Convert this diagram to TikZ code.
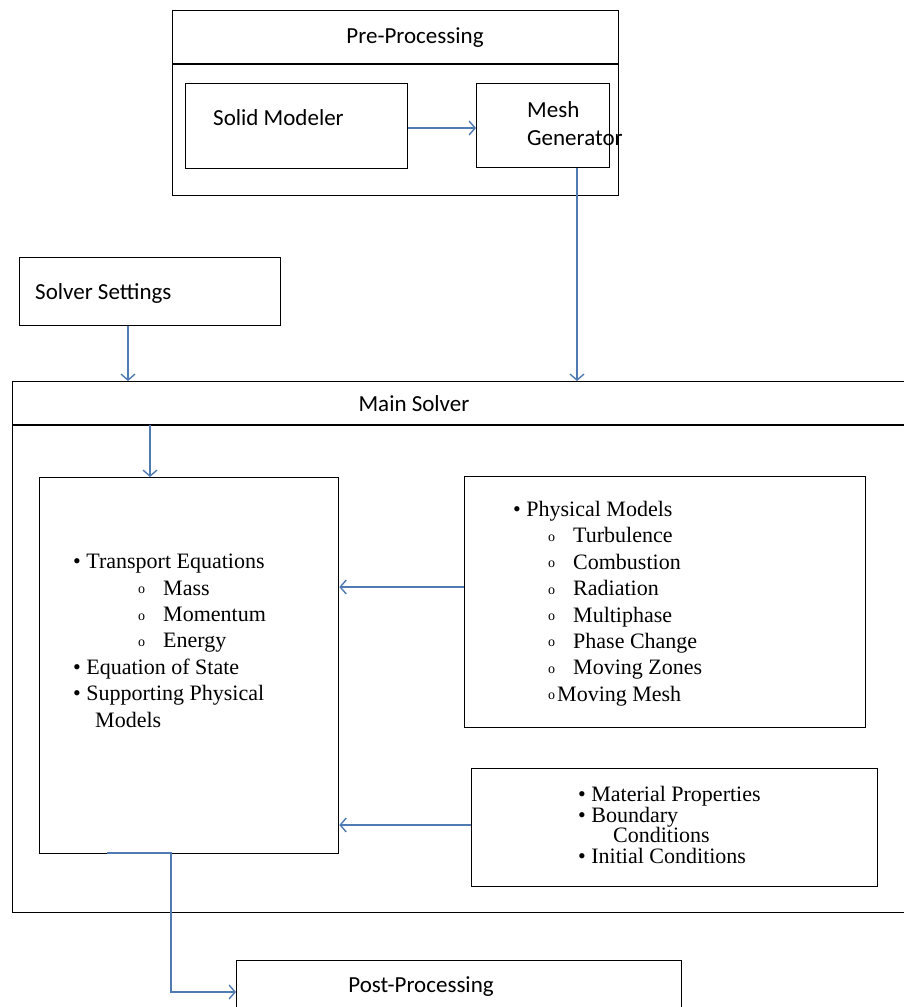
\documentclass[tikz,border=0pt]{standalone}
\usepackage{fontspec}
\setmainfont{Liberation Serif}
\newfontfamily\labelfont{Carlito}
\usetikzlibrary{arrows.meta}
\definecolor{flowblue}{RGB}{79,122,178}
\newcommand\subbullet[1]{\makebox[#1][l]{\raisebox{1.5pt}{\fontsize{14}{14}\selectfont o}}}

\begin{document}
\begin{tikzpicture}[x=1pt,y=-1pt]
\tikzset{box/.style={draw, line width=1.3pt, anchor=north west, inner sep=0pt}}
\tikzset{title/.style={font=\labelfont\fontsize{23}{28}\selectfont, inner sep=0pt}}
\tikzset{list/.style={font=\fontsize{22}{26.4}\selectfont, align=left, anchor=north west, inner sep=0pt}}
\tikzset{flow/.style={draw=flowblue, line width=1.4pt, -{Straight Barb[length=6pt, width=14pt]}}}
\useasboundingbox (0,0) rectangle (903,1007);

% pre-processing
\node[box, minimum width=446pt, minimum height=185pt] (pre) at (172,10) {};
\draw[line width=1.3pt] ([yshift=-54pt]pre.north west) -- ([yshift=-54pt]pre.north east);
\node[title] (pretitle) at (415,38) {Pre-Processing};
\node[box, minimum width=222pt, minimum height=85pt] (solid) at (185,83) {};
\node[title, anchor=west] (solidtext) at (213,118) {Solid Modeler};
\node[box, minimum width=133pt, minimum height=84pt] (mesh) at (476,83) {};
\node[title, anchor=west, align=left] (meshtext) at (527,124) {Mesh\\Generator};
\draw[flow] (solid.east |- 0,128) -- (mesh.west |- 0,128);

% solver settings
\node[box, minimum width=261pt, minimum height=68pt] (settings) at (19,257) {};
\node[title, anchor=west] (settingstext) at (35,293) {Solver Settings};

% main solver
\node[box, minimum width=900pt, minimum height=531pt] (main) at (12,381) {};
\draw[line width=1.3pt] ([yshift=-44pt]main.north west) -- ([yshift=-44pt]main.north east);
\coordinate (divider) at (150,425);
\node[title] (maintext) at (414,404) {Main Solver};
\draw[flow] (settings.south -| 128,0) -- (main.north -| 128,0);
\draw[flow] (mesh.south -| 577,0) -- (main.north -| 577,0);

\node[box, minimum width=299pt, minimum height=376pt] (transport) at (39,477) {};
\node[list] (transporttext) at (73,554) {\textbullet\ Transport Equations\\
\hspace*{65pt}\subbullet{25pt}Mass\\
\hspace*{65pt}\subbullet{25pt}Momentum\\
\hspace*{65pt}\subbullet{25pt}Energy\\
\textbullet\ Equation of State\\
\textbullet\ Supporting Physical\\
\hspace*{22pt}Models};
\draw[flow] (divider) -- (transport.north -| divider);

\node[box, minimum width=401pt, minimum height=251pt] (physical) at (464,476) {};
\node[list] (physicaltext) at (513,501) {\textbullet\ Physical Models\\
\hspace*{35pt}\subbullet{25pt}Turbulence\\
\hspace*{35pt}\subbullet{25pt}Combustion\\
\hspace*{35pt}\subbullet{25pt}Radiation\\
\hspace*{35pt}\subbullet{25pt}Multiphase\\
\hspace*{35pt}\subbullet{25pt}Phase Change\\
\hspace*{35pt}\subbullet{25pt}Moving Zones\\
\hspace*{35pt}\subbullet{9pt}Moving Mesh};
\draw[flow] (physical.west |- 0,587) -- (transport.east |- 0,587);

\node[box, minimum width=406pt, minimum height=118pt] (material) at (471,768) {};
\node[list, font=\fontsize{22}{20.7}\selectfont] (materialtext) at (578,786) {\textbullet\ Material Properties\\
\textbullet\ Boundary\\
\hspace*{35pt}Conditions\\
\textbullet\ Initial Conditions};
\draw[flow] (material.west |- 0,825) -- (transport.east |- 0,825);

% post-processing
\node[box, minimum width=445pt, minimum height=60pt] (post) at (236,960) {};
\node[title] (posttext) at (421,987) {Post-Processing};
\coordinate (outlet) at (107,853);
\draw[flow] (outlet) -- (171,853) -- (171,992) -- (post.west |- 0,992);
\end{tikzpicture}
\end{document}
